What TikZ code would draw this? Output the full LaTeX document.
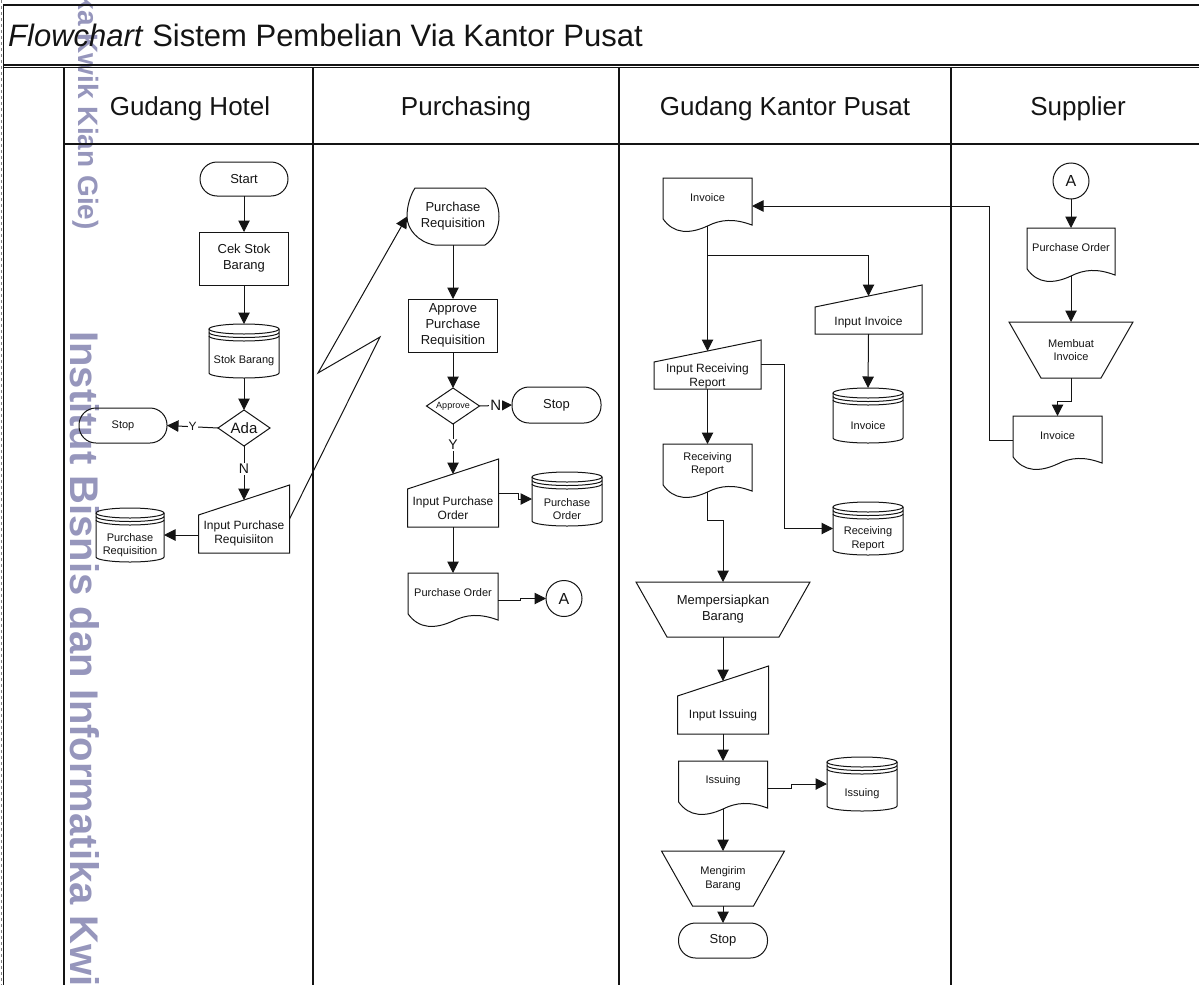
\documentclass[tikz,border=0pt]{standalone}
\usepackage{fontspec}
\setmainfont{Liberation Sans}
\usetikzlibrary{arrows.meta,shapes.geometric,calc}
\definecolor{wmcol}{RGB}{150,150,188}
\definecolor{ink}{RGB}{20,20,20}

\tikzset{
 frame/.style={line width=1.1pt, draw=ink},
 shp/.style={line width=1pt, draw=ink},
 box/.style={draw=none, inner sep=0pt, outer sep=0pt, align=center, text=ink},
 arr/.style={line width=1pt, draw=ink, -{Triangle[length=11.5pt,width=11.5pt]}},
 lnk/.style={line width=1pt, draw=ink},
 lbl/.style={fill=white, inner sep=1pt, text=ink},
 t9/.style={font=\fontsize{9}{11}\selectfont},
 t11/.style={font=\fontsize{11}{13.5}\selectfont},
 t12/.style={font=\fontsize{12}{14}\selectfont},
 t13/.style={font=\fontsize{13}{16}\selectfont},
 t14/.style={font=\fontsize{14}{16}\selectfont},
 t15/.style={font=\fontsize{15}{18}\selectfont},
 t16/.style={font=\fontsize{16}{19}\selectfont},
 term/.style={box, draw=ink, line width=1pt, rounded corners=17pt},
 proc/.style={box, draw=ink, line width=1pt},
 dec/.style={diamond, draw=ink, line width=1pt, inner sep=0pt, outer sep=0pt, aspect=1.45, text=ink},
 conn/.style={circle, draw=ink, line width=1pt, inner sep=0pt, outer sep=0pt, minimum size=36, text=ink},
}

% document: name, cx, cy, w, h(top to middle of wave), text
\newcommand\docnode[6]{%
 \node[box, minimum width=#4, minimum height=#5,
   label={[t11, align=center, text=ink, yshift=4pt]center:{#6}}] (#1) at (#2,#3) {};
 \begin{scope}[shift={(#1.north west)}, x=#4pt, y=-#5pt]
  \draw[shp] (0,0) -- (1,0) -- (1,0.98) .. controls (0.8,0.84) and (0.65,0.86) .. (0.5,1)
   .. controls (0.3,1.17) and (0.12,1.17) .. (0,0.85) -- cycle;
 \end{scope}}

% manual input: name, cx, cy, w, h, slant, text, text shift down
\newcommand\minode[8]{%
 \node[box, minimum width=#4, minimum height=#5,
   label={[t12, align=center, text=ink, yshift=-#8pt]center:{#7}}] (#1) at (#2,#3) {};
 \draw[shp] (#1.south west) -- (#1.south east) -- (#1.north east) -- ($(#1.north west)+(0,#6)$) -- cycle;}

% manual operation: name, cx, cy, w, h, inset, text, font style
\newcommand\monode[8]{%
 \node[box, #8, minimum width=#4, minimum height=#5] (#1) at (#2,#3) {#7};
 \draw[shp] (#1.north west) -- (#1.north east) -- ($(#1.south east)+(-#6,0)$) -- ($(#1.south west)+(#6,0)$) -- cycle;}

% magnetic disk: name, cx, cy, w, h, text
\newcommand\disknode[6]{%
 \node[box, minimum width=#4, minimum height=#5,
   label={[t11, align=center, text=ink, yshift=-10pt]center:{#6}}] (#1) at (#2,#3) {};
 \pgfmathsetmacro\dka{#4/2}\pgfmathsetmacro\dkb{#5/2}
 \begin{scope}[shift={(#1.center)}]
  \draw[shp] (-\dka,{-\dkb+5}) -- (-\dka,{\dkb-5})
    .. controls (-\dka,{\dkb-2.24}) and ({-0.5523*\dka},\dkb) .. (0,\dkb)
    .. controls ({0.5523*\dka},\dkb) and (\dka,{\dkb-2.24}) .. (\dka,{\dkb-5}) -- (\dka,{-\dkb+5});
  \draw[shp] (0,{-\dkb+5}) ellipse [x radius=\dka, y radius=5];
  \foreach \dd in {3.5,7}{
   \draw[shp] (-\dka,{-\dkb+5+\dd})
    .. controls (-\dka,{-\dkb+7.76+\dd}) and ({-0.5523*\dka},{-\dkb+10+\dd}) .. (0,{-\dkb+10+\dd})
    .. controls ({0.5523*\dka},{-\dkb+10+\dd}) and (\dka,{-\dkb+7.76+\dd}) .. (\dka,{-\dkb+5+\dd});}
 \end{scope}}

% display: name, cx, cy, w, h, text
\newcommand\dispnode[6]{%
 \node[box, t13, minimum width=#4, minimum height=#5] (#1) at (#2,#3) {#6};
 \begin{scope}[shift={(#1.north west)}, x=#4pt, y=-#5pt]
  \draw[shp] (0.087,0) -- (0.848,0) .. controls (0.95,0.1) and (1,0.3) .. (1,0.5)
    .. controls (1,0.7) and (0.95,0.9) .. (0.848,1) -- (0.3,1)
    .. controls (0.12,0.95) and (0,0.72) .. (0,0.5)
    .. controls (0,0.3) and (0.04,0.12) .. (0.087,0) -- cycle;
 \end{scope}}

\begin{document}
\begin{tikzpicture}[x=1pt,y=-1pt]
\useasboundingbox (0,0) rectangle (1199,985);
\clip (0,0) rectangle (1199,985);

% watermark
\node[anchor=base west, rotate=-90, text=wmcol, inner sep=0pt, font=\bfseries\fontsize{40}{46}\selectfont] (wmA) at (70,331) {Institut Bisnis dan Informatika Kwi};
\node[anchor=base east, rotate=-90, text=wmcol, inner sep=0pt, font=\bfseries\fontsize{28}{33}\selectfont] (wmB) at (78,230) {ka Kwik Kian Gie)};

% frame
\draw[gray, dashed, line width=0.6pt] (1,0) -- (1,985);
\draw[frame] (3,5) -- (1199,5);
\draw[frame] (3.5,5) -- (3.5,985);
\draw[frame] (3,65) -- (1199,65);
\draw[frame] (3,67.5) -- (1199,67.5);
\draw[frame] (64,67.5) -- (64,985);
\draw[frame] (313,67.5) -- (313,985);
\draw[frame] (619,67.5) -- (619,985);
\draw[frame] (951,67.5) -- (951,985);
\draw[frame] (64,144) -- (1199,144);

% titles
\node[anchor=base west, inner sep=0pt, text=ink, font=\fontsize{31}{36}\selectfont] (title) at (8,46) {\textit{Flowchart} Sistem Pembelian Via Kantor Pusat};
\node[anchor=base, inner sep=0pt, text=ink, font=\fontsize{26}{30}\selectfont] (h1) at (190,115) {Gudang Hotel};
\node[anchor=base, inner sep=0pt, text=ink, font=\fontsize{26}{30}\selectfont] (h2) at (466,115) {Purchasing};
\node[anchor=base, inner sep=0pt, text=ink, font=\fontsize{26}{30}\selectfont] (h3) at (785,115) {Gudang Kantor Pusat};
\node[anchor=base, inner sep=0pt, text=ink, font=\fontsize{26}{30}\selectfont] (h4) at (1078,115) {Supplier};

% ---- Gudang Hotel
\node[term, t13, minimum width=88, minimum height=34] (start) at (244,179) {Start};
\node[proc, t13, minimum width=89, minimum height=53] (cek) at (244,258.5) {Cek Stok\\Barang};
\disknode{stok}{244}{351}{70}{54}{Stok Barang}
\node[dec, t15, minimum width=52, minimum height=36] (ada) at (244,428) {Ada};
\node[term, t11, minimum width=88, minimum height=35] (stop1) at (123,425.5) {Stop};
\minode{ipr}{244}{519}{91}{68}{30}{Input Purchase\\Requisiiton}{14}
\disknode{prd}{130}{535}{68}{54}{Purchase\\Requisition}

% ---- Purchasing
\dispnode{prq}{453}{216.5}{92}{57}{Purchase\\Requisition}
\node[proc, t13, minimum width=89, minimum height=53] (apr) at (453,325.5) {Approve\\Purchase\\Requisition};
\node[dec, t9, minimum width=53, minimum height=36] (apv) at (453,406) {Approve};
\node[term, t13, minimum width=89, minimum height=36] (stop2) at (556.5,405) {Stop};
\minode{ipo}{453}{493}{91}{68}{30}{Input Purchase\\Order}{15}
\disknode{podb}{567}{499}{70}{54}{Purchase\\Order}
\docnode{podoc}{453}{597}{90}{48}{Purchase Order}
\node[conn, t16] (ca) at (564,598.5) {A};

% ---- Gudang Kantor Pusat
\docnode{inv1}{707.5}{202}{89}{48}{Invoice}
\minode{iinv}{868.5}{309.5}{107}{49}{22}{Input Invoice}{12.5}
\disknode{invdb}{868}{415.5}{70}{55}{Invoice}
\minode{irr}{707.5}{364.5}{107}{49}{22}{Input Receiving\\Report}{11.5}
\docnode{rrdoc}{707.5}{468}{89}{48}{Receiving\\Report}
\disknode{rrdb}{868}{528.5}{70}{53}{Receiving\\Report}
\monode{mb}{723}{609.5}{174}{55}{31}{Mempersiapkan\\Barang}{t13}
\minode{iis}{723}{700}{91}{68}{30}{Input Issuing}{15}
\docnode{isdoc}{723}{785}{89}{48}{Issuing}
\disknode{isdb}{862}{784}{70}{54}{Issuing}
\monode{mk}{723}{878.5}{123}{55}{31}{Mengirim\\Barang}{t11}
\node[term, t13, minimum width=89, minimum height=35] (stop3) at (723,940.5) {Stop};

% ---- Supplier
\node[conn, t16] (ca2) at (1071,181) {A};
\docnode{spo}{1071}{252}{88}{48}{Purchase Order}
\monode{mi}{1071}{350}{124}{56}{32}{Membuat\\Invoice}{t11}
\docnode{sinv}{1057.5}{440}{89}{48}{Invoice}

% ---- connectors
\coordinate (z1) at (380,337);
\coordinate (z2) at (318,373);
\coordinate (br1) at (707.5,255);

\draw[arr] (start.south) -- (cek.north);
\draw[arr] (cek.south) -- (stok.north);
\draw[arr] (stok.south) -- (ada.north);
\draw[arr] (ada.west) -- node[lbl,t12]{Y} (stop1.east);
\draw[arr] (ada.south) -- node[lbl,t14,pos=0.42]{N} ($(ipr.north)+(0,15)$);
\draw[arr] (ipr.west |- prd.east) -- (prd.east);
\draw[arr] (ipr.east) -- (z1) -- (z2) -- (prq.west);

\draw[arr] (prq.south) -- (apr.north);
\draw[arr] (apr.south) -- (apv.north);
\draw[arr] (apv.east) -- node[lbl,t15]{N} (stop2.west);
\draw[arr] (apv.south) -- node[lbl,t14,pos=0.42]{Y} ($(ipo.north)+(0,15)$);
\draw[arr] (ipo.east) -- ++(20,0) |- (podb.west);
\draw[arr] (ipo.south) -- (podoc.north);
\draw[arr] ([yshift=-3pt]podoc.east) -- ++(22,0) |- (ca.west);

\draw[lnk] (inv1.south) -- (br1);
\draw[arr] (br1) -- ($(irr.north)+(0,11)$);
\draw[arr] (br1) -| ($(iinv.north)+(0,11)$);
\draw[arr] (iinv.south) -- (invdb.north);
\draw[arr] (irr.east) -- ++(23,0) |- (rrdb.west);
\draw[arr] (irr.south) -- (rrdoc.north);
\draw[arr] (rrdoc.south) -- ++(0,28) -| (mb.north);
\draw[arr] (mb.south) -- ($(iis.north)+(0,15)$);
\draw[arr] (iis.south) -- (isdoc.north);
\draw[arr] ([yshift=-3pt]isdoc.east) -- ++(24,0) |- (isdb.west);
\draw[arr] (isdoc.south) -- (mk.north);
\draw[arr] (mk.south) -- (stop3.north);
\draw[arr] (sinv.west) -- ++(-24,0) |- ([yshift=-4pt]inv1.east);

\draw[arr] (ca2.south) -- (spo.north);
\draw[arr] (spo.south) -- (mi.north);
\draw[arr] (mi.south) -- ++(0,23) -| (sinv.north);
\end{tikzpicture}
\end{document}
